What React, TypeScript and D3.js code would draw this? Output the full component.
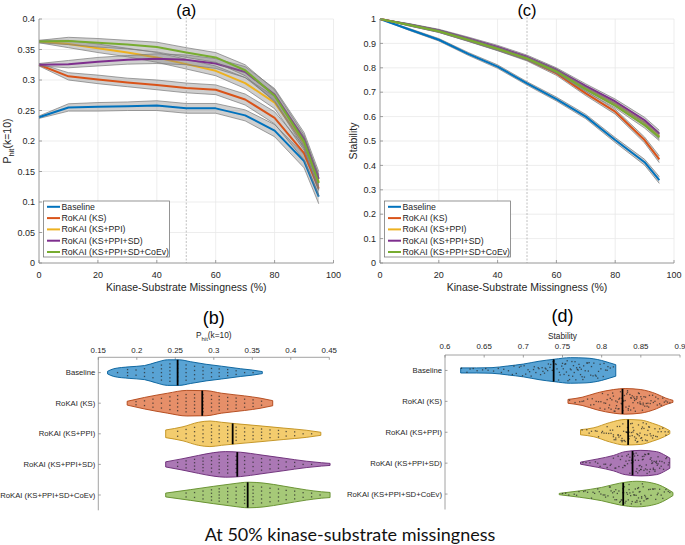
import React from 'react';
import * as d3 from 'd3';

// ---------------- data ----------------
const missingness = [0, 10, 20, 30, 40, 50, 60, 70, 80, 90, 95];
const methods = ['Baseline', 'RoKAI (KS)', 'RoKAI (KS+PPI)', 'RoKAI (KS+PPI+SD)', 'RoKAI (KS+PPI+SD+CoEv)'];
const methodColors = ['#0072BD', '#D95319', '#EDB120', '#7E2F8E', '#77AC30'];

const phitBaseline = [0.239, 0.255, 0.256, 0.257, 0.258, 0.2535, 0.2535, 0.242, 0.217, 0.167, 0.109];
const phitKS = [0.325, 0.306, 0.301, 0.296, 0.292, 0.287, 0.284, 0.268, 0.238, 0.18, 0.122];
const phitKSPPI = [0.363, 0.359, 0.352, 0.345, 0.337, 0.326, 0.315, 0.295, 0.263, 0.196, 0.133];
const phitKSPPISD = [0.325, 0.326, 0.33, 0.333, 0.335, 0.333, 0.327, 0.313, 0.276, 0.203, 0.138];
const phitKSPPISDCoEv = [0.363, 0.364, 0.361, 0.358, 0.354, 0.345, 0.337, 0.316, 0.274, 0.199, 0.131];
const phitCI = [0.002, 0.006, 0.007, 0.007, 0.008, 0.008, 0.008, 0.009, 0.01, 0.011, 0.012];

const stabBaseline = [1, 0.957, 0.915, 0.857, 0.805, 0.736, 0.672, 0.6, 0.504, 0.413, 0.34];
const stabKS = [1, 0.976, 0.95, 0.914, 0.877, 0.835, 0.777, 0.695, 0.62, 0.504, 0.425];
const stabKSPPI = [1, 0.976, 0.951, 0.916, 0.879, 0.839, 0.788, 0.718, 0.653, 0.575, 0.52];
const stabKSPPISD = [1, 0.977, 0.953, 0.92, 0.885, 0.845, 0.792, 0.725, 0.662, 0.585, 0.53];
const stabKSPPISDCoEv = [1, 0.975, 0.95, 0.915, 0.878, 0.838, 0.785, 0.712, 0.645, 0.565, 0.515];
const stabCI = [0, 0.004, 0.005, 0.006, 0.007, 0.007, 0.008, 0.009, 0.01, 0.012, 0.014];

const xTicksLine = [0, 20, 40, 60, 80, 100];
const phitTicks = [0, 0.05, 0.1, 0.15, 0.2, 0.25, 0.3, 0.35, 0.4];
const stabTicks = [0, 0.1, 0.2, 0.3, 0.4, 0.5, 0.6, 0.7, 0.8, 0.9, 1];

// violin (b): P_hit at 50% missingness — density profiles [value, relative width]
const phitViolinTicks = [0.15, 0.2, 0.25, 0.3, 0.35, 0.4, 0.45];
const phitProfileBaseline = [[0.162, 0.1], [0.17, 0.3], [0.19, 0.45], [0.21, 0.55], [0.225, 0.8], [0.24, 1.0], [0.255, 1.0], [0.27, 0.85], [0.29, 0.65], [0.31, 0.5], [0.335, 0.3], [0.35, 0.2], [0.363, 0.08]];
const phitProfileKS = [[0.1875, 0.15], [0.21, 0.45], [0.24, 0.78], [0.265, 1.0], [0.29, 0.98], [0.31, 0.78], [0.34, 0.57], [0.36, 0.4], [0.3765, 0.2]];
const phitProfileKSPPI = [[0.2375, 0.3], [0.26, 0.55], [0.28, 0.9], [0.295, 1.0], [0.31, 0.9], [0.33, 0.78], [0.36, 0.62], [0.39, 0.45], [0.42, 0.28], [0.439, 0.12]];
const phitProfileKSPPISD = [[0.2375, 0.2], [0.26, 0.45], [0.28, 0.7], [0.3, 0.92], [0.315, 1.0], [0.335, 0.95], [0.36, 0.75], [0.39, 0.5], [0.42, 0.25], [0.44, 0.13], [0.451, 0.08]];
const phitProfileKSPPISDCoEv = [[0.2375, 0.15], [0.27, 0.42], [0.3, 0.68], [0.325, 0.88], [0.345, 1.0], [0.365, 0.93], [0.39, 0.7], [0.42, 0.4], [0.44, 0.25], [0.451, 0.2]];
const phitMedians = [0.253, 0.285, 0.3245, 0.3305, 0.344];
// dot columns [value, count]
const phitDotsBaseline = [[0.175, 1], [0.188, 3], [0.199, 2], [0.21, 3], [0.221, 3], [0.232, 5], [0.243, 6], [0.253, 5], [0.264, 5], [0.275, 4], [0.286, 4], [0.297, 3], [0.307, 3], [0.318, 3], [0.329, 2], [0.34, 1], [0.351, 1]];
const phitDotsKS = [[0.199, 2], [0.21, 2], [0.221, 3], [0.232, 3], [0.243, 4], [0.253, 5], [0.264, 6], [0.275, 6], [0.286, 6], [0.297, 5], [0.307, 5], [0.318, 4], [0.329, 4], [0.34, 3], [0.351, 3], [0.362, 2]];
const phitDotsKSPPI = [[0.253, 2], [0.264, 3], [0.275, 4], [0.286, 5], [0.297, 6], [0.307, 5], [0.318, 5], [0.329, 5], [0.34, 4], [0.351, 4], [0.362, 4], [0.373, 3], [0.384, 3], [0.394, 2], [0.405, 2], [0.416, 1], [0.427, 1]];
const phitDotsKSPPISD = [[0.253, 2], [0.264, 3], [0.275, 4], [0.286, 5], [0.297, 5], [0.307, 6], [0.318, 6], [0.329, 5], [0.34, 5], [0.351, 4], [0.362, 4], [0.373, 3], [0.384, 3], [0.394, 2], [0.405, 2], [0.416, 1], [0.427, 1]];
const phitDotsKSPPISDCoEv = [[0.264, 2], [0.275, 2], [0.286, 3], [0.297, 4], [0.307, 5], [0.318, 5], [0.329, 5], [0.34, 6], [0.351, 6], [0.362, 5], [0.373, 4], [0.384, 4], [0.394, 3], [0.405, 3], [0.416, 2], [0.427, 2], [0.438, 1]];

// violin (d): stability at 50% missingness
const stabViolinTicks = [0.6, 0.65, 0.7, 0.75, 0.8, 0.85, 0.9];
const stabProfileBaseline = [[0.62, 0.2], [0.64, 0.2], [0.66, 0.22], [0.68, 0.35], [0.7, 0.5], [0.72, 0.72], [0.74, 0.88], [0.76, 1.0], [0.78, 0.97], [0.8, 0.78], [0.81, 0.6], [0.818, 0.45]];
const stabProfileKS = [[0.757, 0.15], [0.775, 0.32], [0.795, 0.68], [0.815, 0.92], [0.83, 1.0], [0.85, 0.92], [0.87, 0.58], [0.882, 0.25], [0.891, 0.08]];
const stabProfileKSPPI = [[0.773, 0.2], [0.79, 0.35], [0.81, 0.75], [0.83, 1.0], [0.85, 0.95], [0.865, 0.7], [0.88, 0.35], [0.887, 0.12]];
const stabProfileKSPPISD = [[0.773, 0.08], [0.795, 0.33], [0.815, 0.6], [0.83, 0.9], [0.85, 1.0], [0.87, 0.9], [0.882, 0.58], [0.887, 0.4]];
const stabProfileKSPPISDCoEv = [[0.7458, 0.05], [0.772, 0.25], [0.8, 0.52], [0.823, 0.85], [0.845, 1.0], [0.87, 0.78], [0.885, 0.35], [0.891, 0.12]];
const stabMedians = [0.7387, 0.8266, 0.8338, 0.8394, 0.8275];
const stabDotsBaseline = [0.621, 0.628, 0.636, 0.641, 0.648, 0.655, 0.662, 0.668, 0.675, 0.681, 0.686, 0.691, 0.695, 0.699, 0.703, 0.706, 0.71, 0.713, 0.716, 0.719, 0.722, 0.725, 0.727, 0.729, 0.732, 0.734, 0.737, 0.739, 0.741, 0.743, 0.745, 0.747, 0.749, 0.751, 0.753, 0.755, 0.757, 0.759, 0.761, 0.763, 0.765, 0.767, 0.769, 0.771, 0.773, 0.775, 0.777, 0.779, 0.782, 0.784, 0.787, 0.79, 0.793, 0.796, 0.799, 0.802, 0.805, 0.808, 0.811, 0.815,
  0.632, 0.652, 0.672, 0.688, 0.697, 0.701, 0.708, 0.714, 0.72, 0.724, 0.728, 0.731, 0.735, 0.738, 0.742, 0.746, 0.75, 0.752, 0.754, 0.756, 0.758, 0.76, 0.762, 0.764, 0.766, 0.768, 0.77, 0.772, 0.774, 0.776, 0.778, 0.781, 0.783, 0.786, 0.789, 0.792, 0.795, 0.798, 0.803, 0.807];
const stabDotsKS = [0.759, 0.766, 0.772, 0.777, 0.782, 0.786, 0.79, 0.793, 0.796, 0.799, 0.801, 0.803, 0.805, 0.807, 0.809, 0.811, 0.813, 0.815, 0.817, 0.819, 0.821, 0.822, 0.824, 0.826, 0.827, 0.829, 0.831, 0.832, 0.834, 0.836, 0.838, 0.84, 0.842, 0.844, 0.846, 0.848, 0.85, 0.852, 0.854, 0.856, 0.858, 0.86, 0.862, 0.865, 0.868, 0.871, 0.874, 0.878, 0.882, 0.887, 0.812, 0.818, 0.823, 0.828, 0.833, 0.837, 0.841, 0.845, 0.849, 0.853,
  0.775, 0.788, 0.798, 0.804, 0.808, 0.81, 0.814, 0.816, 0.82, 0.822, 0.825, 0.827, 0.83, 0.833, 0.835, 0.837, 0.839, 0.841, 0.843, 0.845, 0.847, 0.849, 0.851, 0.853, 0.855, 0.857, 0.859, 0.861, 0.863, 0.866, 0.869, 0.872, 0.876, 0.88, 0.884, 0.818, 0.826, 0.834, 0.842, 0.85];
const stabDotsKSPPI = [0.775, 0.781, 0.787, 0.792, 0.796, 0.8, 0.803, 0.806, 0.809, 0.812, 0.814, 0.816, 0.818, 0.82, 0.822, 0.824, 0.826, 0.828, 0.83, 0.832, 0.833, 0.835, 0.837, 0.839, 0.841, 0.843, 0.845, 0.847, 0.849, 0.851, 0.853, 0.855, 0.857, 0.859, 0.861, 0.863, 0.866, 0.869, 0.872, 0.876, 0.881, 0.885, 0.827, 0.834, 0.84, 0.846, 0.852, 0.858, 0.821, 0.815,
  0.784, 0.794, 0.801, 0.807, 0.811, 0.815, 0.818, 0.821, 0.823, 0.825, 0.827, 0.829, 0.831, 0.833, 0.835, 0.836, 0.838, 0.84, 0.842, 0.844, 0.846, 0.848, 0.85, 0.852, 0.854, 0.856, 0.858, 0.86, 0.862, 0.865, 0.868, 0.871, 0.874, 0.878, 0.882, 0.826, 0.832, 0.839, 0.845, 0.851];
const stabDotsKSPPISD = [0.776, 0.785, 0.792, 0.798, 0.803, 0.807, 0.811, 0.815, 0.818, 0.821, 0.824, 0.827, 0.83, 0.832, 0.834, 0.836, 0.838, 0.84, 0.842, 0.844, 0.846, 0.848, 0.85, 0.852, 0.854, 0.856, 0.858, 0.86, 0.862, 0.864, 0.866, 0.868, 0.87, 0.872, 0.874, 0.876, 0.879, 0.882, 0.885, 0.843, 0.847, 0.851, 0.855, 0.859, 0.863, 0.867, 0.839, 0.835, 0.831, 0.871,
  0.78, 0.795, 0.805, 0.812, 0.817, 0.822, 0.826, 0.829, 0.833, 0.836, 0.838, 0.841, 0.844, 0.846, 0.848, 0.85, 0.852, 0.854, 0.856, 0.858, 0.86, 0.862, 0.864, 0.866, 0.868, 0.87, 0.872, 0.874, 0.877, 0.88, 0.883, 0.886, 0.845, 0.849, 0.853, 0.857, 0.861, 0.865, 0.869, 0.84];
const stabDotsKSPPISDCoEv = [0.75, 0.758, 0.765, 0.771, 0.777, 0.782, 0.787, 0.791, 0.795, 0.799, 0.802, 0.805, 0.808, 0.811, 0.814, 0.816, 0.818, 0.82, 0.822, 0.824, 0.826, 0.828, 0.83, 0.832, 0.834, 0.836, 0.838, 0.84, 0.842, 0.844, 0.846, 0.848, 0.85, 0.852, 0.854, 0.856, 0.858, 0.86, 0.863, 0.866, 0.869, 0.872, 0.876, 0.88, 0.885, 0.843, 0.847, 0.851, 0.835, 0.827,
  0.754, 0.768, 0.779, 0.789, 0.797, 0.804, 0.81, 0.815, 0.819, 0.823, 0.827, 0.831, 0.835, 0.837, 0.839, 0.841, 0.843, 0.845, 0.847, 0.849, 0.851, 0.853, 0.855, 0.857, 0.859, 0.862, 0.865, 0.868, 0.871, 0.874, 0.878, 0.882, 0.887, 0.833, 0.829, 0.825, 0.817, 0.812, 0.845, 0.849];

// ---------------- styles ----------------
const FONT = "'Liberation Sans', Arial, Helvetica, sans-serif";
const TXT = '#262626';
const GRID = '#e8e8e8';
const AXIS = '#8a8a8a';

// deterministic vertical jitter offset in [-1, 1] (layout only)
const jitter = (i: number, k: number) => {
  const s = Math.sin(i * 12.9898 + k * 78.233) * 43758.5453;
  return (s - Math.floor(s)) * 2 - 1;
};

type LineProps = {
  xScale: d3.ScaleLinear<number, number>;
  yScale: d3.ScaleLinear<number, number>;
  series: number[][];
  ci: number[];
  yTicks: number[];
  title: string;
  yLabel: React.ReactNode;
  yLabelX: number;
};

function LinePanel({ xScale, yScale, series, ci, yTicks, title, yLabel, yLabelX }: LineProps) {
  const [x0, x1] = xScale.range();
  const [yb, yt] = yScale.range();
  const fmt = d3.format('~g');
  const area = (s: number[]) =>
    d3.area<number>()
      .x((_, i) => xScale(missingness[i]))
      .y0((d, i) => yScale(d - ci[i]))
      .y1((d, i) => yScale(d + ci[i]))(s) || '';
  const edge = (s: number[], sign: number) =>
    d3.line<number>()
      .x((_, i) => xScale(missingness[i]))
      .y((d, i) => yScale(d + sign * ci[i]))(s) || '';
  const line = (s: number[]) =>
    d3.line<number>()
      .x((_, i) => xScale(missingness[i]))
      .y((d) => yScale(d))(s) || '';
  const cx = (x0 + x1) / 2;
  const legX = x0 + 4.5;
  const legY = 201;
  return (
    <g>
      {xTicksLine.map((t) => (
        <line key={'gx' + t} x1={xScale(t)} x2={xScale(t)} y1={yt} y2={yb} stroke={GRID} strokeWidth={0.8} />
      ))}
      {yTicks.map((t) => (
        <line key={'gy' + t} x1={x0} x2={x1} y1={yScale(t)} y2={yScale(t)} stroke={GRID} strokeWidth={0.8} />
      ))}
      <line x1={xScale(50)} x2={xScale(50)} y1={yt - 2} y2={yb} stroke="#b0b0b0" strokeWidth={0.8} strokeDasharray="2,1.5" />
      {series.map((s, k) => (
        <g key={'s' + k}>
          <path d={area(s)} fill="#808080" fillOpacity={0.38} stroke="none" />
          <path d={edge(s, 1)} fill="none" stroke="#7a7a7a" strokeWidth={0.7} />
          <path d={edge(s, -1)} fill="none" stroke="#7a7a7a" strokeWidth={0.7} />
          <path d={line(s)} fill="none" stroke={methodColors[k]} strokeWidth={2} strokeLinejoin="round" />
        </g>
      ))}
      {/* axes */}
      <line x1={x0} x2={x0} y1={yt} y2={yb} stroke={AXIS} strokeWidth={0.8} />
      <line x1={x0} x2={x1} y1={yb} y2={yb} stroke={AXIS} strokeWidth={0.8} />
      {yTicks.map((t) => (
        <g key={'ty' + t}>
          <line x1={x0} x2={x0 + 3} y1={yScale(t)} y2={yScale(t)} stroke={AXIS} strokeWidth={0.8} />
          <text x={x0 - 4} y={yScale(t)} dy="0.35em" textAnchor="end" fontSize={9} fill={TXT} fontFamily={FONT}>{fmt(t)}</text>
        </g>
      ))}
      {xTicksLine.map((t) => (
        <g key={'tx' + t}>
          <line x1={xScale(t)} x2={xScale(t)} y1={yb} y2={yb - 3} stroke={AXIS} strokeWidth={0.8} />
          <text x={xScale(t)} y={yb + 15} textAnchor="middle" fontSize={9} fill={TXT} fontFamily={FONT}>{fmt(t)}</text>
        </g>
      ))}
      <text x={cx} y={yb + 28} textAnchor="middle" fontSize={10.5} fill={TXT} fontFamily={FONT}>Kinase-Substrate Missingness (%)</text>
      <text x={xScale(50)} y={15.5} textAnchor="middle" fontSize={16.5} fill="#000" fontFamily={FONT}>{title}</text>
      <g transform={`translate(${yLabelX},${(yt + yb) / 2}) rotate(-90)`}>
        <text x={0} y={0} textAnchor="middle" fontSize={10.5} fill={TXT} fontFamily={FONT}>{yLabel}</text>
      </g>
      {/* legend */}
      <rect x={legX} y={legY} width={126} height={56} fill="#fff" stroke="#7a7a7a" strokeWidth={0.8} />
      {methods.map((m, k) => (
        <g key={'lg' + k}>
          <line x1={legX + 3.5} x2={legX + 16.5} y1={legY + 5.8 + k * 11.3} y2={legY + 5.8 + k * 11.3} stroke={methodColors[k]} strokeWidth={2} />
          <text x={legX + 18} y={legY + 5.8 + k * 11.3} dy="0.35em" fontSize={8.7} fill={TXT} fontFamily={FONT}>{m}</text>
        </g>
      ))}
    </g>
  );
}

type ViolinProps = {
  xScale: d3.ScaleLinear<number, number>;
  top: number;
  bottom: number;
  profiles: number[][][];
  medians: number[];
  ticks: number[];
  title: string;
  axisLabel: React.ReactNode;
  tickY: number;
  labelY: number;
  maxHW: number;
  columnDots?: number[][][];
  scatterDots?: number[][];
};

function ViolinPanel({ xScale, top, bottom, profiles, medians, ticks, title, axisLabel, tickY, labelY, maxHW, columnDots, scatterDots }: ViolinProps) {
  const [x0, x1] = xScale.range();
  const yPos = d3.scalePoint<string>().domain(methods).range([top, bottom]).padding(0.5);
  const fmt = d3.format('~g');
  const cxMid = (x0 + x1) / 2;
  return (
    <g>
      <text x={cxMid} y={top - 33} textAnchor="middle" fontSize={18} fill="#000" fontFamily={FONT}>{title}</text>
      <text x={cxMid} y={labelY} textAnchor="middle" fontSize={8.3} fill={TXT} fontFamily={FONT}>{axisLabel}</text>
      {ticks.map((t) => (
        <g key={'t' + t}>
          <line x1={xScale(t)} x2={xScale(t)} y1={top} y2={top + 2.5} stroke={AXIS} strokeWidth={0.8} />
          <text x={xScale(t)} y={tickY} dy="0.35em" textAnchor="middle" fontSize={7.9} fill={TXT} fontFamily={FONT}>{fmt(t)}</text>
        </g>
      ))}
      <line x1={x0} x2={x1} y1={top} y2={top} stroke={AXIS} strokeWidth={0.8} />
      <line x1={x0} x2={x0} y1={top} y2={bottom} stroke={AXIS} strokeWidth={0.8} />
      {methods.map((m, k) => {
        const cy = yPos(m) as number;
        const prof = profiles[k];
        const widthAt = d3.scaleLinear().domain(prof.map((p) => p[0])).range(prof.map((p) => p[1])).clamp(true);
        const areaGen = d3.area<number[]>()
          .x((d) => xScale(d[0]))
          .y0((d) => cy + d[1] * maxHW)
          .y1((d) => cy - d[1] * maxHW)
          .curve(d3.curveMonotoneX);
        const base = d3.color(methodColors[k])!;
        const edgeCol = d3.color(methodColors[k])!.darker(0.6).formatHex();
        const med = medians[k];
        const mw = widthAt(med) * maxHW;
        const dots: { x: number; y: number }[] = [];
        if (columnDots) {
          columnDots[k].forEach(([v, n]) => {
            const hw = widthAt(v) * maxHW * 0.82;
            for (let j = 0; j < n; j++) {
              const f = n === 1 ? 0 : ((j + 0.5) / n) * 2 - 1;
              dots.push({ x: xScale(v), y: cy + f * hw });
            }
          });
        }
        if (scatterDots) {
          scatterDots[k].forEach((v, i) => {
            const hw = widthAt(v) * maxHW * 0.85;
            dots.push({ x: xScale(v), y: cy + jitter(i, k) * hw });
          });
        }
        return (
          <g key={'v' + k}>
            <line x1={x0} x2={x0 + 2.5} y1={cy} y2={cy} stroke={AXIS} strokeWidth={0.8} />
            <text x={x0 - 3} y={cy} dy="0.35em" textAnchor="end" fontSize={7.7} fill={TXT} fontFamily={FONT}>{m}</text>
            <path d={areaGen(prof) || ''} fill={base.formatHex()} fillOpacity={0.65} stroke={edgeCol} strokeWidth={0.9} />
            {dots.map((d, i) => (
              <rect key={i} x={d.x - 0.65} y={d.y - 0.65} width={1.3} height={1.3} fill="#2a2a2a" fillOpacity={0.75} />
            ))}
            <line x1={xScale(med)} x2={xScale(med)} y1={cy - mw} y2={cy + mw} stroke="#000" strokeWidth={1.8} />
          </g>
        );
      })}
    </g>
  );
}

export default function App() {
  const xA = d3.scaleLinear().domain([0, 100]).range([39, 333.5]);
  const yA = d3.scaleLinear().domain([0, 0.4]).range([263, 19]);
  const xC = d3.scaleLinear().domain([0, 100]).range([380, 674]);
  const yC = d3.scaleLinear().domain([0, 1]).range([263, 19]);
  const xB = d3.scaleLinear().domain([0.15, 0.45]).range([98.3, 329.3]);
  const xD = d3.scaleLinear().domain([0.6, 0.9]).range([445, 680]);

  const phitLabel = (
    <>
      <tspan>P</tspan>
      <tspan dy={2.5} fontSize="0.72em">hit</tspan>
      <tspan dy={-2.5}>(k=10)</tspan>
    </>
  );

  return (
    <svg width={685} height={545} viewBox="0 0 685 545" style={{ position: 'absolute', left: 0, top: 0, background: '#fff' }}>
      <rect x={0} y={0} width={685} height={545} fill="#fff" />
      <LinePanel
        xScale={xA}
        yScale={yA}
        series={[phitBaseline, phitKS, phitKSPPI, phitKSPPISD, phitKSPPISDCoEv]}
        ci={phitCI}
        yTicks={phitTicks}
        title="(a)"
        yLabel={phitLabel}
        yLabelX={11}
      />
      <LinePanel
        xScale={xC}
        yScale={yC}
        series={[stabBaseline, stabKS, stabKSPPI, stabKSPPISD, stabKSPPISDCoEv]}
        ci={stabCI}
        yTicks={stabTicks}
        title="(c)"
        yLabel="Stability"
        yLabelX={357}
      />
      <ViolinPanel
        xScale={xB}
        top={357.3}
        bottom={510.3}
        profiles={[phitProfileBaseline, phitProfileKS, phitProfileKSPPI, phitProfileKSPPISD, phitProfileKSPPISDCoEv]}
        medians={phitMedians}
        ticks={phitViolinTicks}
        title="(b)"
        axisLabel={phitLabel}
        tickY={350}
        labelY={338}
        maxHW={12.8}
        columnDots={[phitDotsBaseline, phitDotsKS, phitDotsKSPPI, phitDotsKSPPISD, phitDotsKSPPISDCoEv]}
      />
      <ViolinPanel
        xScale={xD}
        top={355}
        bottom={509.5}
        profiles={[stabProfileBaseline, stabProfileKS, stabProfileKSPPI, stabProfileKSPPISD, stabProfileKSPPISDCoEv]}
        medians={stabMedians}
        ticks={stabViolinTicks}
        title="(d)"
        axisLabel="Stability"
        tickY={346.7}
        labelY={338.5}
        maxHW={12.8}
        scatterDots={[stabDotsBaseline, stabDotsKS, stabDotsKSPPI, stabDotsKSPPISD, stabDotsKSPPISDCoEv]}
      />
      <text x={350} y={541} textAnchor="middle" fontSize={18} fill="#111" fontFamily="Lato, 'Open Sans', sans-serif">At 50% kinase-substrate missingness</text>
    </svg>
  );
}
